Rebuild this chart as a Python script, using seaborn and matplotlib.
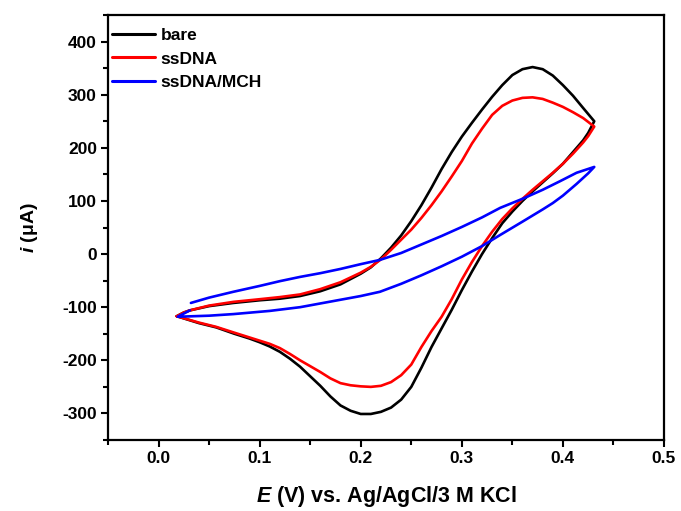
import matplotlib
matplotlib.use("Agg")
import matplotlib.pyplot as plt
import seaborn as sns
import pandas as pd
from matplotlib.ticker import MultipleLocator
from matplotlib.lines import Line2D

# ---- data ----
bare_E = [0.018, 0.025, 0.031, 0.05, 0.074, 0.10, 0.12, 0.14, 0.16, 0.18, 0.20, 0.21, 0.22, 0.23,
          0.24, 0.25, 0.26, 0.27, 0.28, 0.29, 0.30, 0.31, 0.32, 0.33, 0.34, 0.35, 0.36, 0.37,
          0.38, 0.39, 0.40, 0.41, 0.42, 0.431,
          0.425, 0.42, 0.41, 0.40, 0.39, 0.38, 0.37, 0.36, 0.35, 0.34, 0.33, 0.32, 0.31, 0.30,
          0.29, 0.28, 0.27, 0.26, 0.25, 0.24, 0.23, 0.22, 0.21, 0.20, 0.19, 0.18, 0.17, 0.16,
          0.15, 0.14, 0.13, 0.12, 0.11, 0.10, 0.09, 0.075, 0.057, 0.04, 0.018]
bare_i = [-117, -110, -106, -98, -92, -87, -84, -79, -70, -57, -37, -25, -8, 12,
          35, 62, 92, 125, 160, 192, 221, 247, 272, 296, 318, 337, 348, 352,
          348, 336, 318, 298, 275, 250,
          228, 214, 192, 170, 152, 135, 118, 100, 80, 58, 30, 0, -33, -68,
          -105, -140, -175, -214, -250, -274, -289, -297, -301, -301, -295, -285, -268, -248,
          -230, -212, -197, -184, -174, -166, -159, -150, -138, -130, -117]

ss_E = [0.018, 0.025, 0.031, 0.05, 0.074, 0.10, 0.12, 0.14, 0.16, 0.18, 0.20, 0.21, 0.22, 0.23,
        0.24, 0.25, 0.26, 0.27, 0.28, 0.29, 0.30, 0.31, 0.32, 0.33, 0.34, 0.35, 0.36, 0.37,
        0.38, 0.39, 0.40, 0.41, 0.42, 0.431,
        0.425, 0.42, 0.41, 0.40, 0.39, 0.38, 0.37, 0.36, 0.35, 0.34, 0.33, 0.32, 0.31, 0.30,
        0.29, 0.28, 0.27, 0.26, 0.25, 0.24, 0.23, 0.22, 0.21, 0.20, 0.19, 0.18, 0.17, 0.16,
        0.15, 0.14, 0.13, 0.12, 0.11, 0.10, 0.09, 0.075, 0.057, 0.04, 0.018]
ss_i = [-117, -110, -106, -97, -90, -85, -81, -76, -66, -53, -35, -24, -10, 8,
        27, 46, 68, 92, 118, 146, 175, 208, 236, 262, 279, 289, 294, 295,
        292, 285, 277, 267, 256, 240,
        222, 210, 189, 170, 153, 137, 121, 104, 86, 66, 42, 15, -15, -48,
        -85, -118, -145, -175, -208, -228, -241, -248, -250, -249, -247, -243, -234, -222,
        -211, -200, -188, -177, -169, -163, -157, -148, -137, -129, -117]

mch_E = [0.032, 0.05, 0.074, 0.10, 0.12, 0.14, 0.16, 0.18, 0.20, 0.219, 0.24, 0.26, 0.28, 0.30,
         0.32, 0.338, 0.36, 0.38, 0.397, 0.4135, 0.431,
         0.425, 0.4135, 0.40, 0.39, 0.38, 0.36, 0.338, 0.32, 0.30, 0.28, 0.26, 0.24, 0.219, 0.20,
         0.18, 0.16, 0.14, 0.11, 0.074, 0.05, 0.019, 0.031]
mch_i = [-92, -82, -71, -60, -51, -43, -36, -28, -19, -11, 2, 18, 34, 51,
         69, 87, 104, 121, 137, 153, 164,
         152, 132, 110, 96, 84, 61, 36, 15, -5, -23, -40, -56, -71, -79,
         -86, -93, -100, -107, -113, -116, -118, -106]

labels = ["bare", "ssDNA", "ssDNA/MCH"]
colors = ["#000000", "#ff0000", "#0000ff"]

xticks = [0.0, 0.1, 0.2, 0.3, 0.4, 0.5]
yticks = [-300, -200, -100, 0, 100, 200, 300, 400]

frames = []
for lab, E, I in zip(labels, [bare_E, ss_E, mch_E], [bare_i, ss_i, mch_i]):
    frames.append(pd.DataFrame({"E": E, "i": I, "electrode": lab}))
df = pd.concat(frames, ignore_index=True)

sns.set_theme(style="ticks")
plt.rcParams["font.family"] = ["Liberation Sans", "DejaVu Sans"]
plt.rcParams["font.weight"] = "bold"
plt.rcParams["text.color"] = "black"
plt.rcParams["axes.labelcolor"] = "black"
plt.rcParams["xtick.color"] = "black"
plt.rcParams["ytick.color"] = "black"
plt.rcParams["mathtext.fontset"] = "custom"
plt.rcParams["mathtext.it"] = "Liberation Sans:italic:bold"
plt.rcParams["mathtext.rm"] = "Liberation Sans:bold"

fig = plt.figure(figsize=(6.81, 5.11), dpi=100)
ax = fig.add_axes([108 / 681, 1 - 440 / 511, (664 - 108) / 681, (440 - 15) / 511])

sns.lineplot(data=df, x="E", y="i", hue="electrode", units="electrode", estimator=None,
             sort=False, palette=dict(zip(labels, colors)), linewidth=1.9, ax=ax, legend=False)

ax.set_xlim(-0.05, 0.5)
ax.set_ylim(-350, 450)
ax.set_xticks(xticks)
ax.set_xticklabels([f"{t:.1f}" for t in xticks])
ax.set_yticks(yticks)
ax.set_yticklabels([str(t) for t in yticks])
ax.xaxis.set_minor_locator(MultipleLocator(0.05))
ax.yaxis.set_minor_locator(MultipleLocator(50))

for s in ax.spines.values():
    s.set_linewidth(1.6)
    s.set_color("black")
ax.tick_params(which="major", direction="out", length=5, width=1.5, labelsize=12.5, pad=3)
ax.tick_params(which="minor", direction="out", length=3.5, width=1.5)
for lbl in ax.get_xticklabels() + ax.get_yticklabels():
    lbl.set_fontweight("bold")

ax.set_xlabel(r"$E$ (V) vs. Ag/AgCl/3 M KCl", fontsize=15.5, fontweight="bold", labelpad=13)
ax.set_ylabel(r"$i$ ($\mathrm{\mu}$A)", fontsize=14, fontweight="bold", labelpad=16)

handles = [Line2D([], [], color=c, lw=2.2) for c in colors]
ax.legend(handles, labels, loc="upper left", bbox_to_anchor=(-0.012, 0.995), frameon=False,
          handlelength=2.5, handletextpad=0.3, labelspacing=0.5,
          borderaxespad=0.0, borderpad=0.6, prop={"weight": "bold", "size": 12.5})

fig.savefig("out.png", dpi=100)
